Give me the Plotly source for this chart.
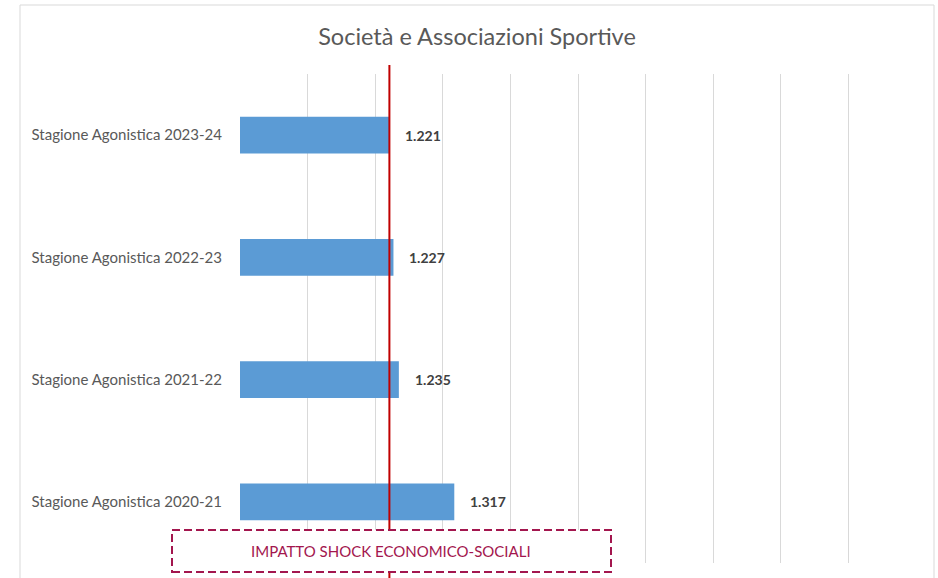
"""Società e Associazioni Sportive - horizontal bar chart"""

import plotly.graph_objects as go

# data (top to bottom, as in the chart)
seasons = [
    "Stagione Agonistica 2023-24",
    "Stagione Agonistica 2022-23",
    "Stagione Agonistica 2021-22",
    "Stagione Agonistica 2020-21",
]
societies = [1221, 1227, 1235, 1317]
shock_level = 1221
x_range = [1000, 2000]
x_step = 100

title_text = "Società e Associazioni Sportive"
box_text = "IMPATTO SHOCK ECONOMICO-SOCIALI"

W, H = 938, 578
M_L, M_R, M_T, M_B = 240, 22, 74, 15
PLOT_W = W - M_L - M_R
PLOT_H = H - M_T - M_B


def px_x(px):
    """pixel x -> paper x"""
    return (px - M_L) / PLOT_W


def px_y(py):
    """pixel y (from top) -> paper y"""
    return (H - M_B - py) / PLOT_H


FONT = "Lato"
GREY_TEXT = "#595959"
BAR_BLUE = "#5b9bd5"
RED = "#c00000"
MAROON = "#a3164e"

fig = go.Figure()

fig.add_trace(
    go.Bar(
        x=societies,
        y=seasons,
        orientation="h",
        marker=dict(color=BAR_BLUE, line=dict(width=0)),
        width=0.3,
        hoverinfo="x+y",
    )
)

# value labels
for season, value in zip(seasons, societies):
    fig.add_annotation(
        x=value,
        y=season,
        xref="x",
        yref="y",
        text=f"<b>{value:,}</b>".replace(",", "."),
        showarrow=False,
        xanchor="left",
        xshift=14,
        font=dict(family=FONT, size=14, color="#404040"),
    )

# outer chart frame
fig.add_shape(
    type="rect", xref="paper", yref="paper",
    x0=px_x(20), x1=px_x(934), y0=px_y(600), y1=px_y(5),
    line=dict(color="#d9d9d9", width=1), layer="below",
)

# red vertical line
fig.add_shape(
    type="line", xref="x", yref="paper",
    x0=shock_level, x1=shock_level, y0=px_y(590), y1=px_y(65),
    line=dict(color=RED, width=2),
)

# dashed box with label
fig.add_shape(
    type="rect", xref="paper", yref="paper",
    x0=px_x(172), x1=px_x(611), y0=px_y(572), y1=px_y(530),
    line=dict(color=MAROON, width=2, dash="8px,4px"),
    fillcolor="white",
)
fig.add_annotation(
    x=px_x(391), y=px_y(551), xref="paper", yref="paper",
    xanchor="center", yanchor="middle",
    text=box_text, showarrow=False,
    font=dict(family=FONT, size=15, color=MAROON),
)

fig.update_layout(
    width=W,
    height=H,
    margin=dict(l=M_L, r=M_R, t=M_T, b=M_B),
    paper_bgcolor="white",
    plot_bgcolor="white",
    showlegend=False,
    title=dict(
        text=title_text,
        x=477 / W,
        xanchor="center",
        y=1 - 37 / H,
        yanchor="middle",
        font=dict(family=FONT, size=23.5, color=GREY_TEXT),
    ),
)

fig.update_xaxes(
    range=x_range,
    dtick=x_step,
    tick0=x_range[0],
    showgrid=True,
    gridcolor="#d9d9d9",
    gridwidth=1,
    showticklabels=False,
    zeroline=False,
    showline=False,
)
fig.update_yaxes(
    autorange="reversed",
    showgrid=False,
    showline=False,
    ticks="",
    ticklabelstandoff=17,
    tickfont=dict(family=FONT, size=15, color=GREY_TEXT),
)

fig.write_html(
    "out.html",
    config={"displayModeBar": False},
    post_script="document.body.style.margin='0';document.body.style.overflow='hidden';",
)
